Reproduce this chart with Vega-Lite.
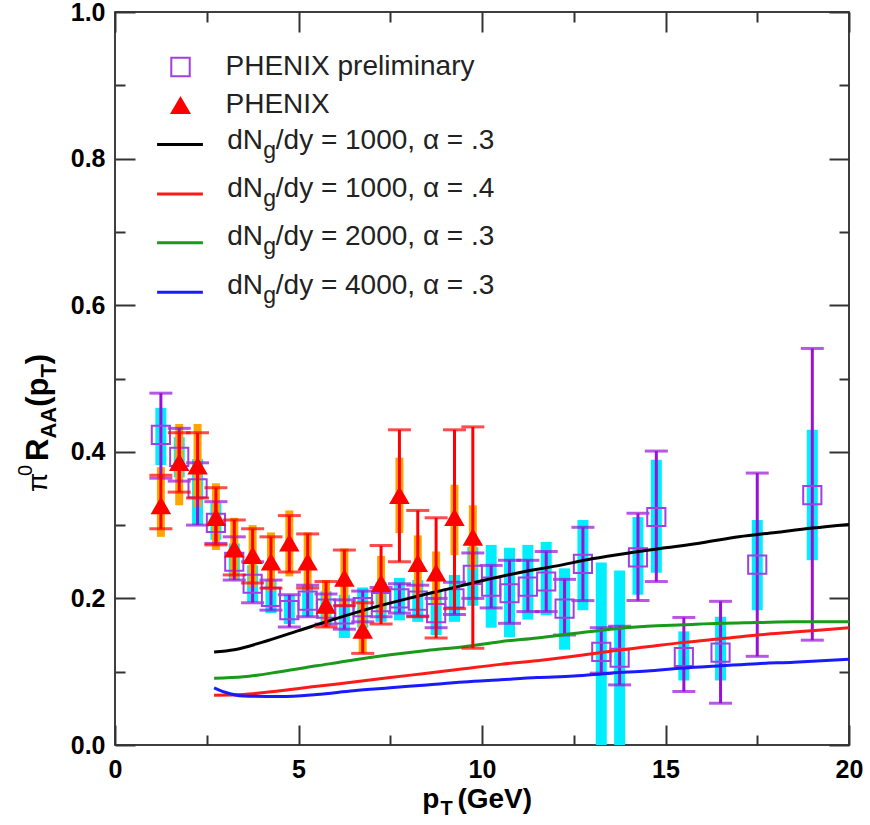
{
  "$schema": "https://vega.github.io/schema/vega-lite/v6.json",
  "width": 734,
  "height": 733,
  "autosize": {"type": "none"},
  "padding": {"left": 115, "top": 12, "right": 21, "bottom": 80},
  "background": "white",
  "config": {
    "view": {"stroke": "#000000", "strokeWidth": 1.5},
    "axis": {"grid": false, "domain": false},
    "font": "Liberation Sans"
  },
  "datasets": {
    "one": [{"k": 1}],
    "prelim": [
      {"pt": 1.25, "r": 0.423, "errLo": 0.364, "errHi": 0.48, "sysLo": 0.382, "sysHi": 0.46},
      {"pt": 1.75, "r": 0.393, "errLo": 0.36, "errHi": 0.432, "sysLo": 0.365, "sysHi": 0.42},
      {"pt": 2.25, "r": 0.35, "errLo": 0.3, "errHi": 0.385, "sysLo": 0.3, "sysHi": 0.39},
      {"pt": 2.75, "r": 0.303, "errLo": 0.275, "errHi": 0.332, "sysLo": 0.28, "sysHi": 0.33},
      {"pt": 3.25, "r": 0.25, "errLo": 0.225, "errHi": 0.284, "sysLo": 0.225, "sysHi": 0.275},
      {"pt": 3.75, "r": 0.22, "errLo": 0.194, "errHi": 0.25, "sysLo": 0.195, "sysHi": 0.245},
      {"pt": 4.25, "r": 0.202, "errLo": 0.184, "errHi": 0.225, "sysLo": 0.18, "sysHi": 0.225},
      {"pt": 4.75, "r": 0.184, "errLo": 0.161, "errHi": 0.205, "sysLo": 0.165, "sysHi": 0.205},
      {"pt": 5.25, "r": 0.197, "errLo": 0.175, "errHi": 0.218, "sysLo": 0.175, "sysHi": 0.218},
      {"pt": 5.75, "r": 0.186, "errLo": 0.165, "errHi": 0.206, "sysLo": 0.163, "sysHi": 0.21},
      {"pt": 6.25, "r": 0.178, "errLo": 0.158, "errHi": 0.198, "sysLo": 0.146, "sysHi": 0.205},
      {"pt": 6.75, "r": 0.188, "errLo": 0.168, "errHi": 0.21, "sysLo": 0.16, "sysHi": 0.215},
      {"pt": 7.25, "r": 0.195, "errLo": 0.175, "errHi": 0.215, "sysLo": 0.168, "sysHi": 0.222},
      {"pt": 7.75, "r": 0.2, "errLo": 0.18, "errHi": 0.22, "sysLo": 0.17, "sysHi": 0.228},
      {"pt": 8.25, "r": 0.197, "errLo": 0.176, "errHi": 0.218, "sysLo": 0.168, "sysHi": 0.225},
      {"pt": 8.75, "r": 0.18, "errLo": 0.16, "errHi": 0.2, "sysLo": 0.15, "sysHi": 0.21},
      {"pt": 9.25, "r": 0.2, "errLo": 0.178, "errHi": 0.222, "sysLo": 0.168, "sysHi": 0.232},
      {"pt": 9.75, "r": 0.232, "errLo": 0.2, "errHi": 0.262, "sysLo": 0.19, "sysHi": 0.27},
      {"pt": 10.25, "r": 0.216, "errLo": 0.187, "errHi": 0.245, "sysLo": 0.16, "sysHi": 0.273},
      {"pt": 10.75, "r": 0.207, "errLo": 0.166, "errHi": 0.252, "sysLo": 0.147, "sysHi": 0.269},
      {"pt": 11.25, "r": 0.216, "errLo": 0.182, "errHi": 0.252, "sysLo": 0.171, "sysHi": 0.273},
      {"pt": 11.75, "r": 0.223, "errLo": 0.182, "errHi": 0.264, "sysLo": 0.177, "sysHi": 0.277},
      {"pt": 12.25, "r": 0.186, "errLo": 0.15, "errHi": 0.226, "sysLo": 0.13, "sysHi": 0.241},
      {"pt": 12.75, "r": 0.247, "errLo": 0.197, "errHi": 0.297, "sysLo": 0.184, "sysHi": 0.307},
      {"pt": 13.25, "r": 0.127, "errLo": 0.098, "errHi": 0.16, "sysLo": 0.0, "sysHi": 0.249},
      {"pt": 13.75, "r": 0.119, "errLo": 0.082, "errHi": 0.162, "sysLo": 0.0, "sysHi": 0.238},
      {"pt": 14.25, "r": 0.256, "errLo": 0.197, "errHi": 0.316, "sysLo": 0.205, "sysHi": 0.311},
      {"pt": 14.75, "r": 0.311, "errLo": 0.223, "errHi": 0.401, "sysLo": 0.235, "sysHi": 0.389},
      {"pt": 15.5, "r": 0.12, "errLo": 0.073, "errHi": 0.174, "sysLo": 0.088, "sysHi": 0.155},
      {"pt": 16.5, "r": 0.126, "errLo": 0.057, "errHi": 0.196, "sysLo": 0.088, "sysHi": 0.175},
      {"pt": 17.5, "r": 0.246, "errLo": 0.121, "errHi": 0.371, "sysLo": 0.184, "sysHi": 0.307},
      {"pt": 19.0, "r": 0.341, "errLo": 0.143, "errHi": 0.541, "sysLo": 0.252, "sysHi": 0.43}
    ],
    "phenix": [
      {"pt": 1.25, "r": 0.327, "errLo": 0.295, "errHi": 0.368, "sysLo": 0.284, "sysHi": 0.379},
      {"pt": 1.75, "r": 0.386, "errLo": 0.345, "errHi": 0.426, "sysLo": 0.327, "sysHi": 0.438},
      {"pt": 2.25, "r": 0.381, "errLo": 0.337, "errHi": 0.426, "sysLo": 0.325, "sysHi": 0.438},
      {"pt": 2.75, "r": 0.311, "errLo": 0.273, "errHi": 0.351, "sysLo": 0.266, "sysHi": 0.357},
      {"pt": 3.25, "r": 0.268, "errLo": 0.232, "errHi": 0.307, "sysLo": 0.225, "sysHi": 0.31},
      {"pt": 3.75, "r": 0.259, "errLo": 0.221, "errHi": 0.295, "sysLo": 0.215, "sysHi": 0.3},
      {"pt": 4.25, "r": 0.25, "errLo": 0.214, "errHi": 0.284, "sysLo": 0.21, "sysHi": 0.29},
      {"pt": 4.75, "r": 0.276, "errLo": 0.236, "errHi": 0.313, "sysLo": 0.23, "sysHi": 0.32},
      {"pt": 5.25, "r": 0.25, "errLo": 0.214, "errHi": 0.288, "sysLo": 0.21, "sysHi": 0.29},
      {"pt": 5.75, "r": 0.191, "errLo": 0.161, "errHi": 0.223, "sysLo": 0.16, "sysHi": 0.225},
      {"pt": 6.25, "r": 0.228, "errLo": 0.19, "errHi": 0.266, "sysLo": 0.19, "sysHi": 0.268},
      {"pt": 6.75, "r": 0.157, "errLo": 0.125, "errHi": 0.194, "sysLo": 0.125, "sysHi": 0.195},
      {"pt": 7.25, "r": 0.221, "errLo": 0.165, "errHi": 0.272, "sysLo": 0.18, "sysHi": 0.258},
      {"pt": 7.75, "r": 0.341, "errLo": 0.25, "errHi": 0.43, "sysLo": 0.289, "sysHi": 0.392},
      {"pt": 8.25, "r": 0.248, "errLo": 0.175, "errHi": 0.32, "sysLo": 0.205, "sysHi": 0.286},
      {"pt": 8.75, "r": 0.235, "errLo": 0.146, "errHi": 0.31, "sysLo": 0.19, "sysHi": 0.264},
      {"pt": 9.25, "r": 0.311, "errLo": 0.186, "errHi": 0.43, "sysLo": 0.259, "sysHi": 0.355},
      {"pt": 9.75, "r": 0.284, "errLo": 0.132, "errHi": 0.434, "sysLo": 0.239, "sysHi": 0.327}
    ],
    "theory": [
      {"series": "A", "pt": 2.7, "r": 0.127}, {"series": "A", "pt": 3.25, "r": 0.13}, {"series": "A", "pt": 4, "r": 0.14},
      {"series": "A", "pt": 5, "r": 0.156}, {"series": "A", "pt": 6, "r": 0.172}, {"series": "A", "pt": 7, "r": 0.187},
      {"series": "A", "pt": 8, "r": 0.2}, {"series": "A", "pt": 9, "r": 0.212}, {"series": "A", "pt": 10, "r": 0.224},
      {"series": "A", "pt": 11, "r": 0.235}, {"series": "A", "pt": 12, "r": 0.244}, {"series": "A", "pt": 13, "r": 0.254},
      {"series": "A", "pt": 14, "r": 0.262}, {"series": "A", "pt": 15, "r": 0.269}, {"series": "A", "pt": 16, "r": 0.276},
      {"series": "A", "pt": 17, "r": 0.284}, {"series": "A", "pt": 18, "r": 0.29}, {"series": "A", "pt": 19, "r": 0.296},
      {"series": "A", "pt": 20, "r": 0.301},
      {"series": "B", "pt": 2.7, "r": 0.068}, {"series": "B", "pt": 3.5, "r": 0.069}, {"series": "B", "pt": 4.5, "r": 0.074},
      {"series": "B", "pt": 5.5, "r": 0.08}, {"series": "B", "pt": 6.5, "r": 0.086}, {"series": "B", "pt": 7.5, "r": 0.092},
      {"series": "B", "pt": 8.5, "r": 0.098}, {"series": "B", "pt": 9.5, "r": 0.104}, {"series": "B", "pt": 10.5, "r": 0.11},
      {"series": "B", "pt": 11.5, "r": 0.115}, {"series": "B", "pt": 12.5, "r": 0.121}, {"series": "B", "pt": 13.5, "r": 0.128},
      {"series": "B", "pt": 14.5, "r": 0.134}, {"series": "B", "pt": 15.5, "r": 0.14}, {"series": "B", "pt": 16.5, "r": 0.145},
      {"series": "B", "pt": 17.5, "r": 0.15}, {"series": "B", "pt": 18.5, "r": 0.154}, {"series": "B", "pt": 20, "r": 0.16},
      {"series": "C", "pt": 2.7, "r": 0.091}, {"series": "C", "pt": 3.5, "r": 0.093}, {"series": "C", "pt": 4.5, "r": 0.1},
      {"series": "C", "pt": 5.5, "r": 0.108}, {"series": "C", "pt": 6.5, "r": 0.116}, {"series": "C", "pt": 7.5, "r": 0.123},
      {"series": "C", "pt": 8.5, "r": 0.129}, {"series": "C", "pt": 9.5, "r": 0.134}, {"series": "C", "pt": 10.5, "r": 0.141},
      {"series": "C", "pt": 11.5, "r": 0.146}, {"series": "C", "pt": 12.5, "r": 0.152}, {"series": "C", "pt": 13.5, "r": 0.158},
      {"series": "C", "pt": 14.5, "r": 0.162}, {"series": "C", "pt": 15.5, "r": 0.164}, {"series": "C", "pt": 16.5, "r": 0.166},
      {"series": "C", "pt": 17.5, "r": 0.167}, {"series": "C", "pt": 18.5, "r": 0.168}, {"series": "C", "pt": 20, "r": 0.168},
      {"series": "D", "pt": 2.7, "r": 0.078}, {"series": "D", "pt": 3.0, "r": 0.072}, {"series": "D", "pt": 3.5, "r": 0.067},
      {"series": "D", "pt": 4.5, "r": 0.066}, {"series": "D", "pt": 5.5, "r": 0.069}, {"series": "D", "pt": 6.5, "r": 0.074},
      {"series": "D", "pt": 7.5, "r": 0.078}, {"series": "D", "pt": 8.5, "r": 0.082}, {"series": "D", "pt": 9.5, "r": 0.086},
      {"series": "D", "pt": 10.5, "r": 0.089}, {"series": "D", "pt": 11.5, "r": 0.092}, {"series": "D", "pt": 12.5, "r": 0.094},
      {"series": "D", "pt": 13.5, "r": 0.098}, {"series": "D", "pt": 14.5, "r": 0.101}, {"series": "D", "pt": 15.5, "r": 0.105},
      {"series": "D", "pt": 16.5, "r": 0.108}, {"series": "D", "pt": 17.5, "r": 0.111}, {"series": "D", "pt": 18.5, "r": 0.113},
      {"series": "D", "pt": 20, "r": 0.117}
    ]
  },
  "resolve": {"axis": {"x": "independent", "y": "independent"}},
  "layer": [
    {
      "data": {"name": "prelim"},
      "mark": {"type": "rule", "color": "#00eeff", "strokeWidth": 11, "clip": true},
      "encoding": {
        "x": {"field": "pt", "type": "quantitative", "scale": {"domain": [0, 20], "nice": false, "zero": false},
          "axis": {"orient": "bottom", "values": [0, 5, 10, 15, 20], "tickSize": -20, "tickWidth": 2, "tickColor": "#333333",
            "labelFont": "Liberation Sans", "labelFontWeight": "bold", "labelFontSize": 25, "labelColor": "#000000",
            "labelPadding": 32, "labelFlush": false, "labelBound": false, "labelOverlap": false, "title": null}},
        "y": {"field": "sysLo", "type": "quantitative", "scale": {"domain": [0, 1], "nice": false, "zero": false},
          "axis": {"orient": "left", "values": [0, 0.2, 0.4, 0.6, 0.8, 1.0], "format": ".1f", "tickSize": -20, "tickWidth": 2, "tickColor": "#333333",
            "labelFont": "Liberation Sans", "labelFontWeight": "bold", "labelFontSize": 25, "labelColor": "#000000",
            "labelPadding": 30, "labelFlush": false, "labelBound": false, "labelOverlap": false, "title": null}},
        "y2": {"field": "sysHi"}
      }
    },
    {
      "data": {"name": "phenix"},
      "mark": {"type": "rule", "color": "#ffa500", "strokeWidth": 8},
      "encoding": {
        "x": {"field": "pt", "type": "quantitative",
          "axis": {"orient": "bottom", "values": [2.5, 7.5, 12.5, 17.5], "tickSize": -10, "tickWidth": 2, "tickColor": "#333333", "labels": false, "title": null}},
        "y": {"field": "sysLo", "type": "quantitative",
          "axis": {"orient": "left", "values": [0.1, 0.3, 0.5, 0.7, 0.9], "tickSize": -10, "tickWidth": 2, "tickColor": "#333333", "labels": false, "title": null}},
        "y2": {"field": "sysHi"}
      }
    },
    {
      "data": {"name": "prelim"},
      "mark": {"type": "rule", "color": "#9a10d8", "strokeWidth": 3},
      "encoding": {
        "x": {"field": "pt", "type": "quantitative",
          "axis": {"orient": "top", "values": [0, 5, 10, 15, 20], "tickSize": -20, "tickWidth": 2, "tickColor": "#333333", "labels": false, "title": null}},
        "y": {"field": "errLo", "type": "quantitative",
          "axis": {"orient": "right", "values": [0, 0.2, 0.4, 0.6, 0.8, 1.0], "tickSize": -20, "tickWidth": 2, "tickColor": "#333333", "labels": false, "title": null}},
        "y2": {"field": "errHi"}
      }
    },
    {
      "data": {"name": "prelim"},
      "transform": [{"fold": ["errLo", "errHi"], "as": ["end", "v"]}],
      "mark": {"type": "tick", "orient": "horizontal", "color": "#9a10d8", "size": 23, "thickness": 3},
      "encoding": {
        "x": {"field": "pt", "type": "quantitative",
          "axis": {"orient": "top", "values": [2.5, 7.5, 12.5, 17.5], "tickSize": -10, "tickWidth": 2, "tickColor": "#333333", "labels": false, "title": null}},
        "y": {"field": "v", "type": "quantitative",
          "axis": {"orient": "right", "values": [0.1, 0.3, 0.5, 0.7, 0.9], "tickSize": -10, "tickWidth": 2, "tickColor": "#333333", "labels": false, "title": null}}
      }
    },
    {
      "data": {"name": "prelim"},
      "mark": {"type": "point", "shape": "square", "filled": false, "stroke": "#a040e0", "strokeWidth": 2, "size": 330, "opacity": 1},
      "encoding": {
        "x": {"field": "pt", "type": "quantitative", "axis": null},
        "y": {"field": "r", "type": "quantitative", "axis": null}
      }
    },
    {
      "data": {"name": "theory"},
      "mark": {"type": "line", "strokeWidth": 3, "interpolate": "monotone"},
      "encoding": {
        "x": {"field": "pt", "type": "quantitative", "axis": null},
        "y": {"field": "r", "type": "quantitative", "axis": null},
        "color": {"field": "series", "type": "nominal", "legend": null,
          "scale": {"domain": ["A", "B", "C", "D"], "range": ["#000000", "#ff1a1a", "#1a991a", "#1a1aff"]}}
      }
    },
    {
      "data": {"name": "phenix"},
      "mark": {"type": "rule", "color": "#ff0000", "strokeWidth": 3},
      "encoding": {
        "x": {"field": "pt", "type": "quantitative", "axis": null},
        "y": {"field": "errLo", "type": "quantitative", "axis": null},
        "y2": {"field": "errHi"}
      }
    },
    {
      "data": {"name": "phenix"},
      "transform": [{"fold": ["errLo", "errHi"], "as": ["end", "v"]}],
      "mark": {"type": "tick", "orient": "horizontal", "color": "#ff0000", "size": 23, "thickness": 3},
      "encoding": {
        "x": {"field": "pt", "type": "quantitative", "axis": null},
        "y": {"field": "v", "type": "quantitative", "axis": null}
      }
    },
    {
      "data": {"name": "phenix"},
      "mark": {"type": "point", "shape": "triangle-up", "filled": true, "color": "#ff0000", "size": 420, "opacity": 1},
      "encoding": {
        "x": {"field": "pt", "type": "quantitative", "axis": null},
        "y": {"field": "r", "type": "quantitative", "axis": null}
      }
    },
    {
      "data": {"name": "one"},
      "mark": {"type": "point", "shape": "square", "filled": false, "stroke": "#a040e0", "strokeWidth": 2, "size": 340, "opacity": 1},
      "encoding": {"x": {"datum": 1.785, "axis": null}, "y": {"datum": 0.925, "axis": null}}
    },
    {
      "data": {"name": "one"},
      "mark": {"type": "point", "shape": "triangle-up", "filled": true, "color": "#ff0000", "size": 440, "opacity": 1},
      "encoding": {"x": {"datum": 1.785, "axis": null}, "y": {"datum": 0.8731, "axis": null}}
    },
    {
      "data": {"name": "one"},
      "mark": {"type": "text", "text": "PHENIX preliminary", "align": "left", "baseline": "middle", "fontSize": 28, "font": "Liberation Sans", "color": "#222222"},
      "encoding": {"x": {"datum": 3.011, "axis": null}, "y": {"datum": 0.925, "axis": null}}
    },
    {
      "data": {"name": "one"},
      "mark": {"type": "text", "text": "PHENIX", "align": "left", "baseline": "middle", "fontSize": 28, "font": "Liberation Sans", "color": "#222222"},
      "encoding": {"x": {"datum": 3.011, "axis": null}, "y": {"datum": 0.8731, "axis": null}}
    },
    {
      "data": {"name": "one"},
      "mark": {"type": "rule", "color": "#000000", "strokeWidth": 3},
      "encoding": {"x": {"datum": 1.147, "axis": null}, "x2": {"datum": 2.395}, "y": {"datum": 0.8192, "axis": null}}
    },
    {
      "data": {"name": "one"},
      "mark": {"type": "rule", "color": "#ff1a1a", "strokeWidth": 3},
      "encoding": {"x": {"datum": 1.147, "axis": null}, "x2": {"datum": 2.395}, "y": {"datum": 0.7517, "axis": null}}
    },
    {
      "data": {"name": "one"},
      "mark": {"type": "rule", "color": "#1a991a", "strokeWidth": 3},
      "encoding": {"x": {"datum": 1.147, "axis": null}, "x2": {"datum": 2.395}, "y": {"datum": 0.6853, "axis": null}}
    },
    {
      "data": {"name": "one"},
      "mark": {"type": "rule", "color": "#1a1aff", "strokeWidth": 3},
      "encoding": {"x": {"datum": 1.147, "axis": null}, "x2": {"datum": 2.395}, "y": {"datum": 0.6176, "axis": null}}
    },
    {
      "data": {"name": "one"},
      "mark": {"type": "text", "text": "dN", "align": "right", "baseline": "middle", "fontSize": 28, "font": "Liberation Sans", "color": "#222222"},
      "encoding": {"x": {"datum": 4.033, "axis": null}, "y": {"datum": 0.824, "axis": null}}
    },
    {
      "data": {"name": "one"},
      "mark": {"type": "text", "text": "g", "align": "left", "baseline": "middle", "dy": 10, "fontSize": 23, "font": "Liberation Sans", "color": "#222222"},
      "encoding": {"x": {"datum": 4.04, "axis": null}, "y": {"datum": 0.824, "axis": null}}
    },
    {
      "data": {"name": "one"},
      "mark": {"type": "text", "text": "/dy = 1000, α = .3", "align": "left", "baseline": "middle", "fontSize": 28, "font": "Liberation Sans", "color": "#222222"},
      "encoding": {"x": {"datum": 4.381, "axis": null}, "y": {"datum": 0.824, "axis": null}}
    },
    {
      "data": {"name": "one"},
      "mark": {"type": "text", "text": "dN", "align": "right", "baseline": "middle", "fontSize": 28, "font": "Liberation Sans", "color": "#222222"},
      "encoding": {"x": {"datum": 4.033, "axis": null}, "y": {"datum": 0.7585, "axis": null}}
    },
    {
      "data": {"name": "one"},
      "mark": {"type": "text", "text": "g", "align": "left", "baseline": "middle", "dy": 10, "fontSize": 23, "font": "Liberation Sans", "color": "#222222"},
      "encoding": {"x": {"datum": 4.04, "axis": null}, "y": {"datum": 0.7585, "axis": null}}
    },
    {
      "data": {"name": "one"},
      "mark": {"type": "text", "text": "/dy = 1000, α = .4", "align": "left", "baseline": "middle", "fontSize": 28, "font": "Liberation Sans", "color": "#222222"},
      "encoding": {"x": {"datum": 4.381, "axis": null}, "y": {"datum": 0.7585, "axis": null}}
    },
    {
      "data": {"name": "one"},
      "mark": {"type": "text", "text": "dN", "align": "right", "baseline": "middle", "fontSize": 28, "font": "Liberation Sans", "color": "#222222"},
      "encoding": {"x": {"datum": 4.033, "axis": null}, "y": {"datum": 0.6924, "axis": null}}
    },
    {
      "data": {"name": "one"},
      "mark": {"type": "text", "text": "g", "align": "left", "baseline": "middle", "dy": 10, "fontSize": 23, "font": "Liberation Sans", "color": "#222222"},
      "encoding": {"x": {"datum": 4.04, "axis": null}, "y": {"datum": 0.6924, "axis": null}}
    },
    {
      "data": {"name": "one"},
      "mark": {"type": "text", "text": "/dy = 2000, α = .3", "align": "left", "baseline": "middle", "fontSize": 28, "font": "Liberation Sans", "color": "#222222"},
      "encoding": {"x": {"datum": 4.381, "axis": null}, "y": {"datum": 0.6924, "axis": null}}
    },
    {
      "data": {"name": "one"},
      "mark": {"type": "text", "text": "dN", "align": "right", "baseline": "middle", "fontSize": 28, "font": "Liberation Sans", "color": "#222222"},
      "encoding": {"x": {"datum": 4.033, "axis": null}, "y": {"datum": 0.6262, "axis": null}}
    },
    {
      "data": {"name": "one"},
      "mark": {"type": "text", "text": "g", "align": "left", "baseline": "middle", "dy": 10, "fontSize": 23, "font": "Liberation Sans", "color": "#222222"},
      "encoding": {"x": {"datum": 4.04, "axis": null}, "y": {"datum": 0.6262, "axis": null}}
    },
    {
      "data": {"name": "one"},
      "mark": {"type": "text", "text": "/dy = 4000, α = .3", "align": "left", "baseline": "middle", "fontSize": 28, "font": "Liberation Sans", "color": "#222222"},
      "encoding": {"x": {"datum": 4.381, "axis": null}, "y": {"datum": 0.6262, "axis": null}}
    },
    {
      "data": {"name": "one"},
      "mark": {"type": "text", "text": "p", "align": "right", "baseline": "middle", "fontSize": 28, "fontWeight": "bold", "font": "Liberation Sans", "color": "#000000"},
      "encoding": {"x": {"datum": 8.84, "axis": null}, "y": {"datum": -0.075, "axis": null}}
    },
    {
      "data": {"name": "one"},
      "mark": {"type": "text", "text": "T", "align": "left", "baseline": "middle", "dy": 9, "fontSize": 20, "fontWeight": "bold", "font": "Liberation Sans", "color": "#000000"},
      "encoding": {"x": {"datum": 8.87, "axis": null}, "y": {"datum": -0.075, "axis": null}}
    },
    {
      "data": {"name": "one"},
      "mark": {"type": "text", "text": "(GeV)", "align": "left", "baseline": "middle", "fontSize": 28, "fontWeight": "bold", "font": "Liberation Sans", "color": "#000000"},
      "encoding": {"x": {"datum": 9.33, "axis": null}, "y": {"datum": -0.075, "axis": null}}
    },
    {
      "data": {"name": "one"},
      "mark": {"type": "text", "text": "π", "angle": 270, "align": "left", "baseline": "middle", "fontSize": 28, "font": "Liberation Sans", "color": "#000000"},
      "encoding": {"x": {"datum": -2.06, "axis": null}, "y": {"datum": 0.3452, "axis": null}}
    },
    {
      "data": {"name": "one"},
      "mark": {"type": "text", "text": "0", "angle": 270, "align": "left", "baseline": "middle", "dy": -13, "fontSize": 20, "font": "Liberation Sans", "color": "#000000"},
      "encoding": {"x": {"datum": -2.06, "axis": null}, "y": {"datum": 0.367, "axis": null}}
    },
    {
      "data": {"name": "one"},
      "mark": {"type": "text", "text": "R", "angle": 270, "align": "left", "baseline": "middle", "fontSize": 31, "fontWeight": "bold", "font": "Liberation Sans", "color": "#000000"},
      "encoding": {"x": {"datum": -2.06, "axis": null}, "y": {"datum": 0.3874, "axis": null}}
    },
    {
      "data": {"name": "one"},
      "mark": {"type": "text", "text": "AA", "angle": 270, "align": "left", "baseline": "middle", "dy": 10, "fontSize": 22, "fontWeight": "bold", "font": "Liberation Sans", "color": "#000000"},
      "encoding": {"x": {"datum": -2.06, "axis": null}, "y": {"datum": 0.418, "axis": null}}
    },
    {
      "data": {"name": "one"},
      "mark": {"type": "text", "text": "(p", "angle": 270, "align": "left", "baseline": "middle", "fontSize": 31, "fontWeight": "bold", "font": "Liberation Sans", "color": "#000000"},
      "encoding": {"x": {"datum": -2.06, "axis": null}, "y": {"datum": 0.4614, "axis": null}}
    },
    {
      "data": {"name": "one"},
      "mark": {"type": "text", "text": "T", "angle": 270, "align": "left", "baseline": "middle", "dy": 10, "fontSize": 22, "fontWeight": "bold", "font": "Liberation Sans", "color": "#000000"},
      "encoding": {"x": {"datum": -2.06, "axis": null}, "y": {"datum": 0.5012, "axis": null}}
    },
    {
      "data": {"name": "one"},
      "mark": {"type": "text", "text": ")", "angle": 270, "align": "left", "baseline": "middle", "fontSize": 31, "fontWeight": "bold", "font": "Liberation Sans", "color": "#000000"},
      "encoding": {"x": {"datum": -2.06, "axis": null}, "y": {"datum": 0.5195, "axis": null}}
    }
  ]
}
